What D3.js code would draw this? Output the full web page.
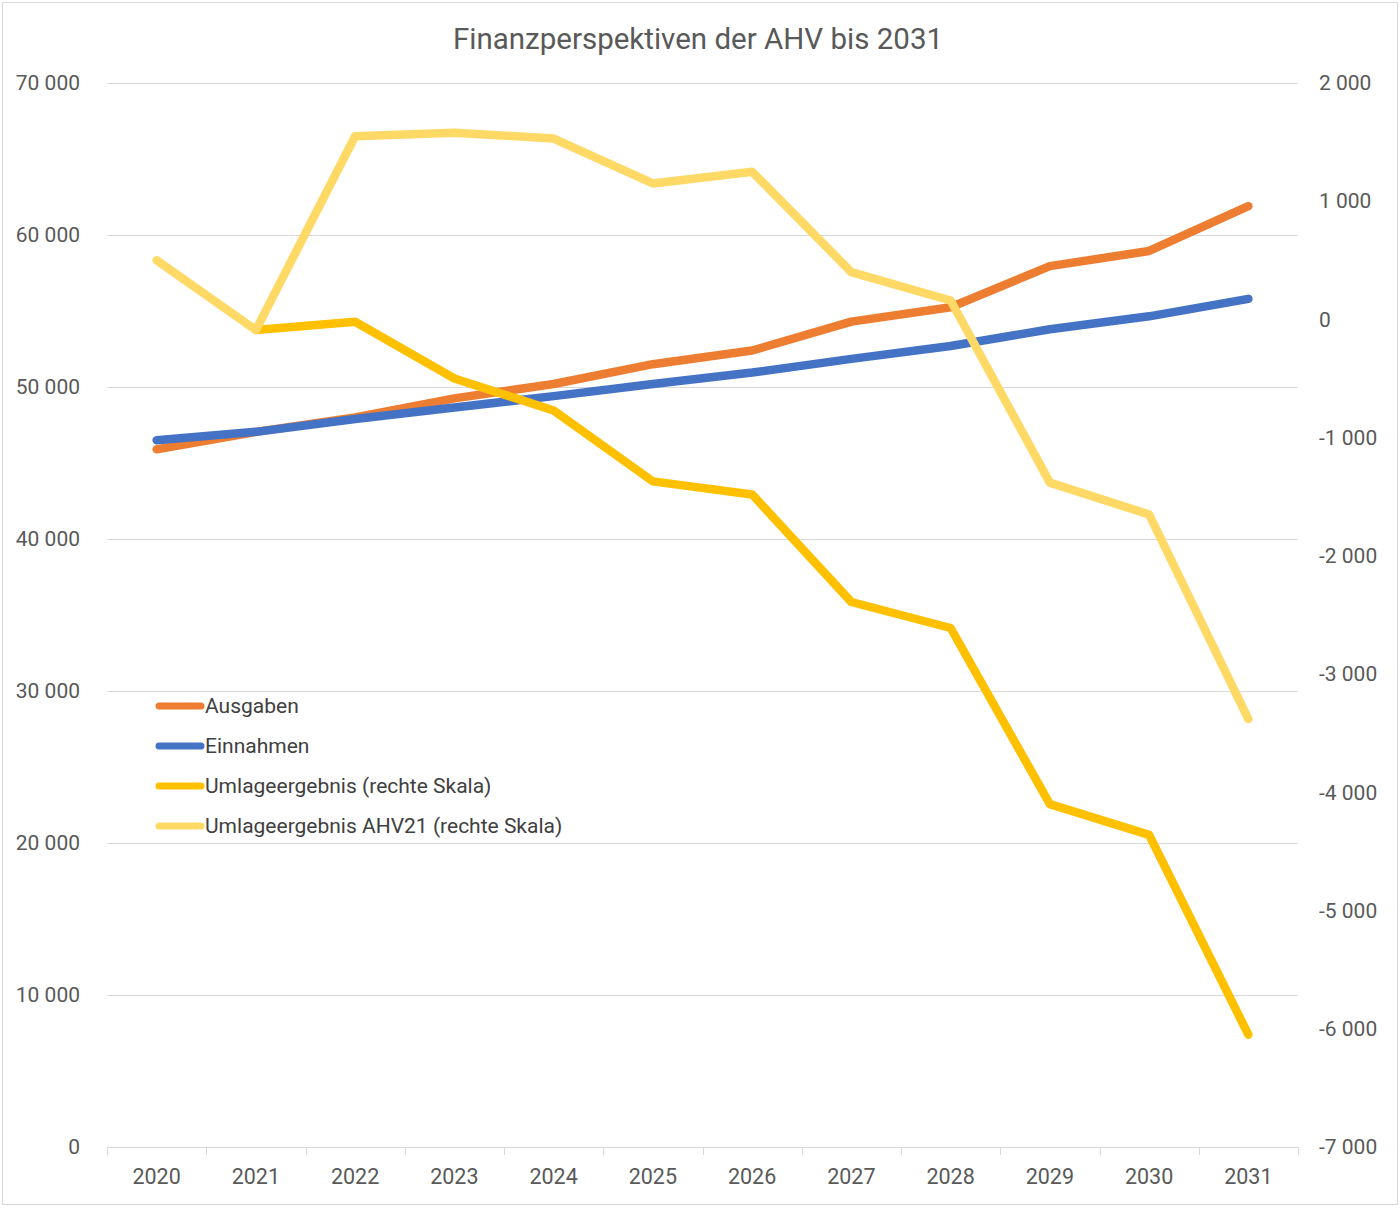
<!DOCTYPE html>
<html>
<head>
<meta charset="utf-8">
<script src="https://cdn.jsdelivr.net/npm/d3@7"></script>
<style>
  body { margin: 0; background: #fff; }
  svg { font-family: Roboto, "Noto Sans", sans-serif; }
</style>
</head>
<body>
<script>
// Data
var years = ['2020', '2021', '2022', '2023', '2024', '2025', '2026', '2027', '2028', '2029', '2030', '2031'];
var ausgaben = [45900, 47050, 48000, 49250, 50200, 51500, 52400, 54300, 55250, 57950, 58950, 61900];
var einnahmen = [46500, 47050, 47900, 48650, 49400, 50200, 50950, 51850, 52700, 53800, 54650, 55800];
var umlage = [null, -90, -20, -500, -770, -1370, -1480, -2390, -2610, -4100, -4360, -6050];
var umlageAhv21 = [500, -90, 1550, 1580, 1530, 1150, 1250, 400, 160, -1380, -1650, -3380];
var leftTicks = [0, 10000, 20000, 30000, 40000, 50000, 60000, 70000];
var rightTicks = [-7000, -6000, -5000, -4000, -3000, -2000, -1000, 0, 1000, 2000];

var series = [
  {name: 'Ausgaben', values: ausgaben, color: '#ED7D31', axis: 'left'},
  {name: 'Einnahmen', values: einnahmen, color: '#4472C4', axis: 'left'},
  {name: 'Umlageergebnis (rechte Skala)', values: umlage, color: '#FFC000', axis: 'right'},
  {name: 'Umlageergebnis AHV21 (rechte Skala)', values: umlageAhv21, color: '#FFD966', axis: 'right'}
];

var W = 1400, H = 1208;
var margin = {top: 83, right: 102, bottom: 61, left: 107};
var width = W - margin.left - margin.right,
    height = H - margin.top - margin.bottom;

var fmt = d3.formatLocale({decimal: '.', thousands: ' ', grouping: [3], currency: ['', ''], minus: '-'}).format(',d');

var x = d3.scaleBand().domain(years).range([0, width]);
var yL = d3.scaleLinear().domain([0, 70000]).range([height, 0]);
var yR = d3.scaleLinear().domain([-7000, 2000]).range([height, 0]);

var svg = d3.select('body').append('svg')
    .attr('width', W)
    .attr('height', H);

// Outer border
svg.append('rect')
    .attr('x', 2.5).attr('y', 2.5)
    .attr('width', W - 5).attr('height', H - 6)
    .attr('fill', '#fff')
    .attr('stroke', '#d9d9d9');

// Title
svg.append('text')
    .attr('x', W / 2 - 2)
    .attr('y', 49)
    .attr('text-anchor', 'middle')
    .attr('font-size', 29.5)
    .attr('fill', '#595959')
    .text('Finanzperspektiven der AHV bis 2031');

var chart = svg.append('g')
    .attr('transform', 'translate(' + margin.left + ',' + margin.top + ')');

// Gridlines
chart.append('g').selectAll('line')
    .data(leftTicks.slice(1))
    .join('line')
    .attr('x1', 0).attr('x2', width)
    .attr('y1', function(d) { return yL(d) + 0.5; })
    .attr('y2', function(d) { return yL(d) + 0.5; })
    .attr('stroke', '#d9d9d9')
    .attr('stroke-width', 1);

// Left axis
var leftAxis = chart.append('g')
    .attr('transform', 'translate(-24,0)')
    .call(d3.axisLeft(yL).tickValues(leftTicks).tickFormat(fmt).tickSize(0));
leftAxis.select('.domain').remove();
leftAxis.selectAll('text').attr('font-size', 21).attr('fill', '#595959').attr('font-family', 'Roboto, sans-serif');

// Right axis
var rightAxis = chart.append('g')
    .attr('transform', 'translate(' + (width + 18) + ',0)')
    .call(d3.axisRight(yR).tickValues(rightTicks).tickFormat(fmt).tickSize(0));
rightAxis.select('.domain').remove();
rightAxis.selectAll('text').attr('font-size', 21).attr('fill', '#595959').attr('font-family', 'Roboto, sans-serif');

// Bottom axis
var xAxisG = chart.append('g')
    .attr('transform', 'translate(0,' + height + ')');
xAxisG.append('line')
    .attr('x1', 0).attr('x2', width)
    .attr('y1', 0.5).attr('y2', 0.5)
    .attr('stroke', '#d9d9d9');
xAxisG.selectAll('.tickmark')
    .data(years.concat(['end']))
    .join('line')
    .attr('class', 'tickmark')
    .attr('x1', function(d, i) { return Math.round(i * x.step()) + 0.5; })
    .attr('x2', function(d, i) { return Math.round(i * x.step()) + 0.5; })
    .attr('y1', 0).attr('y2', 8)
    .attr('stroke', '#d9d9d9');
xAxisG.selectAll('.ylabel')
    .data(years)
    .join('text')
    .attr('class', 'ylabel')
    .attr('x', function(d) { return x(d) + x.bandwidth() / 2; })
    .attr('y', 37)
    .attr('text-anchor', 'middle')
    .attr('font-size', 21.5)
    .attr('fill', '#595959')
    .text(function(d) { return d; });

// Lines
series.forEach(function(s) {
    var yS = s.axis === 'left' ? yL : yR;
    var line = d3.line()
        .defined(function(d) { return d != null; })
        .x(function(d, i) { return x(years[i]) + x.bandwidth() / 2; })
        .y(function(d) { return yS(d); });
    chart.append('path')
        .datum(s.values)
        .attr('fill', 'none')
        .attr('stroke', s.color)
        .attr('stroke-width', 8.5)
        .attr('stroke-linecap', 'round')
        .attr('stroke-linejoin', 'round')
        .attr('d', line);
});

// Legend
var legend = svg.append('g')
    .attr('transform', 'translate(159,706)');
var items = legend.selectAll('g')
    .data(series)
    .join('g')
    .attr('transform', function(d, i) { return 'translate(0,' + (i * 40) + ')'; });
items.append('line')
    .attr('x1', 0).attr('x2', 42)
    .attr('y1', 0).attr('y2', 0)
    .attr('stroke', function(d) { return d.color; })
    .attr('stroke-width', 7)
    .attr('stroke-linecap', 'round');
items.append('text')
    .attr('x', 46)
    .attr('y', 7)
    .attr('font-size', 21)
    .attr('fill', '#404040')
    .text(function(d) { return d.name; });
</script>
</body>
</html>
